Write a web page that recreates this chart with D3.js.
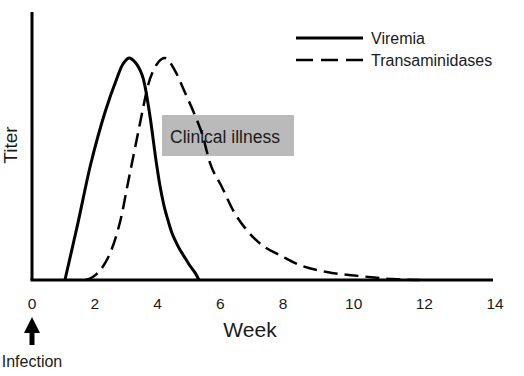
<!DOCTYPE html>
<html>
<head>
<meta charset="utf-8">
<script src="https://cdn.jsdelivr.net/npm/d3@7"></script>
<style>
  html, body { margin: 0; padding: 0; background: #fff; }
  svg { display: block; font-family: "Liberation Sans", Arial, sans-serif; }
</style>
</head>
<body>
<svg id="chart" width="524" height="376"></svg>
<script>
// weeks after infection and relative titer (0-100)
const viremiaWeeks = [1.05, 1.47, 1.88, 2.33, 2.71, 2.90, 3.09, 3.28, 3.51, 3.73, 3.95, 4.08, 4.21, 4.34, 4.46, 4.59, 4.72, 4.88, 5.04, 5.20, 5.32];
const viremiaTiter = [0, 26.1, 52.7, 75.7, 91, 97.3, 100, 98.2, 92.3, 76.6, 54.1, 42.3, 33.3, 26.6, 21.2, 17.1, 13.5, 9.9, 6.3, 3.2, 0];

const transWeeks = [1.70, 1.95, 2.23, 2.49, 2.71, 2.87, 3.03, 3.19, 3.51, 3.67, 4.02, 4.24, 4.56, 4.88, 5.20, 5.42, 5.67, 6.06, 6.41, 6.85, 7.42, 7.90, 8.48, 9.24, 10.17, 11.10, 11.86];
const transTiter = [0, 1.5, 5.4, 12.1, 21.1, 30, 41.7, 52.9, 75.3, 86.1, 98, 100, 94.2, 84.3, 74, 65.9, 52.9, 41.7, 31.4, 22.4, 14.8, 11.2, 6.7, 3.6, 1.8, 0.4, 0];

const xTicks = [0, 2, 4, 6, 8, 10, 12, 14];

const svg = d3.select('#chart');
const TEXT = '#1a1a1a';

// the source tick spacing widens after week 8, so the scale is piecewise
const x = d3.scaleLinear().domain([0, 8, 14]).range([32, 283, 495]);
const y = d3.scaleLinear().domain([0, 100]).range([280, 58]);

// clinical illness box
svg.append('rect')
    .attr('x', 162).attr('y', 115)
    .attr('width', 132).attr('height', 41)
    .attr('fill', '#bababa');
svg.append('text')
    .attr('x', 170).attr('y', 143)
    .style('font-size', '17.5px')
    .style('fill', TEXT)
    .text('Clinical illness');

// axes
svg.append('line')
    .attr('x1', x(0)).attr('x2', x(0))
    .attr('y1', 12).attr('y2', y(0))
    .attr('stroke', '#000').attr('stroke-width', 3);
svg.append('line')
    .attr('x1', x(0) - 1.5).attr('x2', 493)
    .attr('y1', y(0)).attr('y2', y(0))
    .attr('stroke', '#000').attr('stroke-width', 3);

svg.selectAll('.tick-label')
    .data(xTicks)
    .enter()
    .append('text')
    .attr('class', 'tick-label')
    .attr('x', d => x(d))
    .attr('y', 309)
    .attr('text-anchor', 'middle')
    .style('font-size', '15.5px')
    .style('fill', TEXT)
    .text(d => d);

svg.append('text')
    .attr('x', 250).attr('y', 337)
    .attr('text-anchor', 'middle')
    .style('font-size', '21px')
    .style('fill', TEXT)
    .text('Week');

svg.append('text')
    .attr('transform', 'translate(17,145) rotate(-90)')
    .attr('text-anchor', 'middle')
    .style('font-size', '19px')
    .style('fill', TEXT)
    .text('Titer');

// infection arrow
svg.append('path')
    .attr('d', `M${x(0)},317 L${x(0) + 8},333 L${x(0) + 2.5},333 L${x(0) + 2.5},345 L${x(0) - 2.5},345 L${x(0) - 2.5},333 L${x(0) - 8},333 Z`)
    .attr('fill', '#000');
svg.append('text')
    .attr('x', x(0)).attr('y', 367)
    .attr('text-anchor', 'middle')
    .style('font-size', '16px')
    .style('fill', TEXT)
    .text('Infection');

// curves
const line = d3.line()
    .x(d => x(d[0]))
    .y(d => y(d[1]));

svg.append('path')
    .datum(d3.zip(transWeeks, transTiter))
    .attr('d', line.curve(d3.curveMonotoneX))
    .attr('fill', 'none')
    .attr('stroke', '#000')
    .attr('stroke-width', 2.5)
    .attr('stroke-dasharray', '14,7');

svg.append('path')
    .datum(d3.zip(viremiaWeeks, viremiaTiter))
    .attr('d', line.curve(d3.curveCatmullRom.alpha(0.5)))
    .attr('fill', 'none')
    .attr('stroke', '#000')
    .attr('stroke-width', 3);

// legend
const legendItems = [
    { name: 'Viremia', dash: null, y: 38 },
    { name: 'Transaminidases', dash: '17,8', y: 60 }
];
const legend = svg.selectAll('.legend')
    .data(legendItems)
    .enter()
    .append('g')
    .attr('class', 'legend')
    .attr('transform', d => `translate(296,${d.y})`);
legend.append('line')
    .attr('x1', 0).attr('x2', 67)
    .attr('stroke', '#000')
    .attr('stroke-width', d => d.dash ? 2.5 : 3)
    .attr('stroke-dasharray', d => d.dash);
legend.append('text')
    .attr('x', 75).attr('y', 6)
    .style('font-size', '16px')
    .style('fill', TEXT)
    .text(d => d.name);
</script>
</body>
</html>
